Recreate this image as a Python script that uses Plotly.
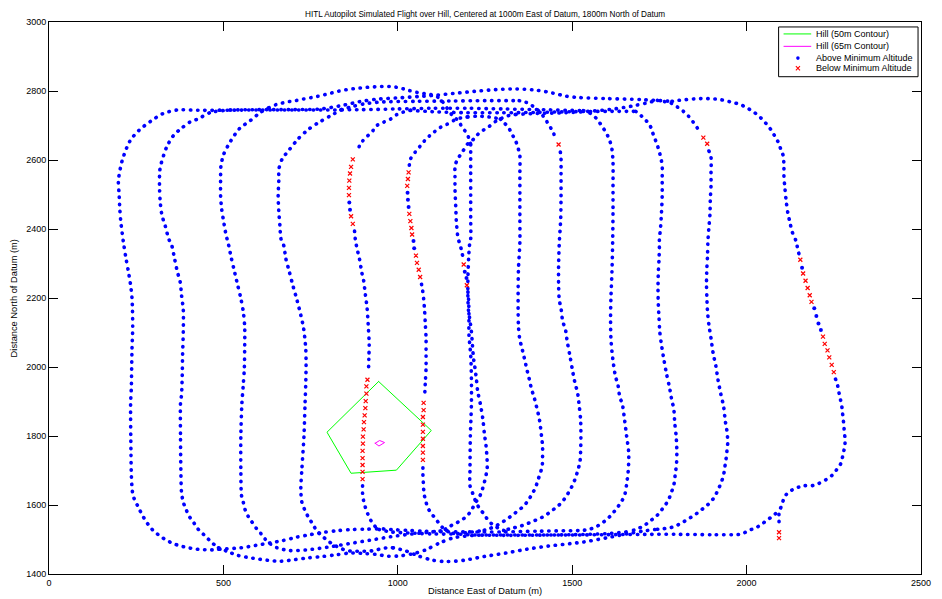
import plotly.graph_objects as go

# ---------------------------------------------------------------------------
# Hill contours (m east / m north of datum)
# ---------------------------------------------------------------------------
HILL_50_X = [945, 1096, 996, 866, 797, 945]
HILL_50_Y = [1958, 1816, 1701, 1692, 1811, 1958]
HILL_65_X = [935, 948, 962, 946, 935]
HILL_65_Y = [1779, 1787, 1781, 1771, 1779]

# ---------------------------------------------------------------------------
# Flight track above minimum altitude, one list per leg / turn.
# None marks a break where the aircraft dropped below minimum altitude.
# ---------------------------------------------------------------------------
LEG_1 = [(489, 2744), (427, 2744), (368, 2745), (326, 2734), (291, 2712), (258, 2686), (232, 2655),
         (210, 2599), (199, 2540), (201, 2501), (203, 2458), (206, 2420), (214, 2357), (220, 2319),
         (227, 2280), (234, 2237), (238, 2199), (240, 2117), (238, 2054), (237, 1997), (236, 1939),
         (234, 1894), (235, 1752), (236, 1689), (238, 1651), (241, 1627), (248, 1610), (258, 1590),
         (267, 1571), (277, 1555), (288, 1538), (301, 1524), (316, 1512), (333, 1500), (352, 1490),
         (371, 1483), (390, 1478), (410, 1474), (432, 1471), (451, 1470), (470, 1470), (489, 1472)]
LEG_2 = [(520, 2745), (464, 2738), (427, 2719), (404, 2710), (376, 2689), (357, 2671), (337, 2637),
         (319, 2579), (317, 2559), (317, 2516), (319, 2477), (324, 2439), (333, 2410), (343, 2372),
         (352, 2352), (360, 2314), (368, 2276), (376, 2247), (380, 2208), (385, 2165), (385, 2103),
         (383, 2035), (382, 1977), (380, 1920), (377, 1894), (377, 1800), (378, 1704), (380, 1636),
         (385, 1608), (393, 1587), (402, 1567), (413, 1552), (425, 1533), (440, 1518), (453, 1505),
         (468, 1490), (486, 1476)]
LEG_3 = [(630, 2751), (606, 2738), (578, 2715), (546, 2691), (521, 2655), (501, 2617), (493, 2583),
         (492, 2544), (492, 2496), (495, 2458), (501, 2420), (508, 2381), (514, 2358), (522, 2319),
         (531, 2280), (541, 2237), (550, 2199), (557, 2160), (561, 2117), (561, 2054), (560, 1997),
         (557, 1949), (553, 1894), (550, 1800), (550, 1704), (552, 1627), (557, 1608), (562, 1587),
         (571, 1567), (581, 1552), (594, 1533), (607, 1518)]
LEG_4 = [(838, 2746), (805, 2727), (772, 2708), (744, 2689), (715, 2662), (690, 2631), (668, 2602),
         (659, 2573), (659, 2545), (657, 2496), (659, 2448), (662, 2410), (665, 2372), (673, 2352),
         (679, 2314), (689, 2276), (699, 2237), (711, 2194), (722, 2150), (730, 2112), (736, 2054),
         (737, 2006), (736, 1949), (734, 1891), (731, 1800), (725, 1704), (722, 1646), (725, 1608),
         (734, 1584), (744, 1564), (756, 1545), (767, 1526), (779, 1513), (795, 1500), (812, 1487),
         (829, 1478), (847, 1470), (868, 1466), (890, 1466), (911, 1466), (932, 1468), (951, 1473),
         (970, 1476), (986, 1476)]
LEG_5 = [(1036, 2744), (1016, 2739), (998, 2732), (980, 2719), (960, 2710), (937, 2698), (928, 2684),
         (899, 2655), (880, 2621), None,
         (876, 2394), (878, 2372), (881, 2354), (885, 2335), (890, 2314), (897, 2273), (902, 2251),
         (907, 2210), (912, 2170), (916, 2107), (918, 2066), (917, 2026), (916, 1987), None,
         (899, 1656), (899, 1634), (902, 1612), (907, 1593), (914, 1574), (923, 1555), (935, 1538),
         (946, 1529)]
LEG_6 = [(1200, 2725), (1181, 2722), (1161, 2715), (1140, 2703), (1121, 2694), (1104, 2681),
         (1090, 2669), (1076, 2655), (1064, 2640), (1050, 2623), (1036, 2602), (1033, 2584), None,
         (1068, 2240), (1071, 2223), (1074, 2199), (1077, 2160), (1079, 2122), (1081, 2083),
         (1081, 2045), (1081, 1997), (1079, 1958), (1077, 1916), None,
         (1072, 1708), (1072, 1688), (1073, 1668), (1074, 1648), (1076, 1629), (1081, 1608),
         (1088, 1588), (1099, 1572), (1112, 1555), (1126, 1537), (1140, 1526)]
LEG_7 = [(1338, 2732), (1319, 2729), (1300, 2722), (1282, 2713), (1263, 2698), (1246, 2687),
         (1229, 2674), (1217, 2660), (1203, 2650), (1190, 2631), (1181, 2617), (1171, 2602),
         (1164, 2582), (1164, 2564), (1164, 2516), (1166, 2468), (1168, 2420), (1173, 2372),
         (1178, 2357), (1183, 2336), (1187, 2317), None,
         (1201, 2218), (1203, 2194), (1204, 2150), (1204, 2093), (1209, 2035), (1211, 1968),
         (1211, 1891), (1208, 1800), (1207, 1704), (1207, 1656), (1215, 1633), (1223, 1611),
         (1234, 1590), (1247, 1574), (1258, 1557), (1272, 1543), (1288, 1533), (1305, 1526),
         (1310, 1528)]
LEG_8 = [(1209, 2645), (1209, 2612), (1209, 2564), (1209, 2497), (1209, 2429), (1209, 2372),
         (1206, 2357), (1203, 2314), (1201, 2256), (1201, 2199), (1203, 2160), (1206, 2141),
         (1211, 2103), (1214, 2064), (1217, 2026), (1220, 2006), (1225, 1968), (1229, 1930),
         (1237, 1891), (1244, 1848), (1248, 1809), (1253, 1771), (1256, 1732), (1256, 1704),
         (1248, 1665), (1241, 1641), (1231, 1617), (1223, 1608), (1213, 1588), (1201, 1571),
         (1184, 1557), (1166, 1547), (1147, 1537), (1130, 1526)]
LEG_9 = [(1294, 2719), (1305, 2708), (1319, 2691), (1328, 2674), (1338, 2655), (1345, 2634),
         (1350, 2612), (1350, 2564), (1350, 2496), (1350, 2429), (1350, 2362), (1346, 2285),
         (1345, 2227), (1345, 2160), (1346, 2117), (1350, 2078), (1355, 2059), (1360, 2037),
         (1365, 2016), (1369, 1997), (1374, 1977), (1379, 1956), (1383, 1937), (1390, 1915),
         (1395, 1896), (1406, 1848), (1412, 1800), (1415, 1771), (1415, 1737), (1414, 1713),
         (1409, 1694), (1402, 1673), (1395, 1651), (1385, 1632), (1373, 1612), (1360, 1596),
         (1345, 1584), (1329, 1571), (1313, 1559), (1296, 1548), (1279, 1538), (1261, 1531),
         (1244, 1526)]
LEG_10 = [(1348, 2772), (1366, 2768), (1381, 2760), (1398, 2748), (1409, 2737), (1423, 2719),
          (1432, 2703), (1444, 2684), (1451, 2665), None,
          (1466, 2623), (1468, 2602), (1468, 2564), (1468, 2497), (1467, 2429), (1463, 2360),
          (1461, 2295), (1461, 2237), (1463, 2194), (1468, 2170), (1473, 2131), (1480, 2112),
          (1486, 2072), (1494, 2030), (1501, 1989), (1509, 1949), (1515, 1928), (1520, 1888),
          (1524, 1848), (1525, 1800), (1524, 1752), (1522, 1723), (1517, 1704), (1511, 1683),
          (1503, 1662), (1494, 1644), (1484, 1627), (1472, 1610), (1458, 1596), (1442, 1584),
          (1425, 1571), (1407, 1561), (1388, 1553), (1369, 1545), (1349, 1538), (1329, 1533),
          (1310, 1528)]
LEG_11 = [(1532, 2743), (1549, 2737), (1565, 2725), (1577, 2710), (1588, 2694), (1600, 2674),
          (1608, 2655), (1614, 2631), (1617, 2593), (1617, 2525), (1617, 2448), (1616, 2362),
          (1614, 2276), (1611, 2199), (1610, 2141), (1611, 2083), (1614, 2045), (1618, 2011),
          (1624, 1973), (1631, 1949), (1637, 1910), (1643, 1896), (1650, 1848), (1656, 1800),
          (1662, 1752), (1661, 1704), (1656, 1660), (1650, 1627), (1640, 1608), (1626, 1588),
          (1612, 1571), (1598, 1557), (1582, 1545), (1565, 1535), (1546, 1529), (1527, 1526)]
LEG_12 = [(1682, 2741), (1699, 2727), (1713, 2713), (1724, 2698), (1730, 2681), (1737, 2662),
          (1744, 2643), (1750, 2623), (1755, 2602), (1758, 2583), (1758, 2545), (1758, 2496),
          (1756, 2448), (1753, 2400), (1750, 2372), (1750, 2352), (1749, 2314), (1747, 2276),
          (1746, 2227), (1747, 2179), (1749, 2141), (1751, 2103), (1756, 2064), (1763, 2021),
          (1770, 1982), (1779, 1941), (1786, 1901), (1791, 1881), (1794, 1838), (1798, 1800),
          (1800, 1757), (1799, 1718), (1796, 1694), (1791, 1656), (1784, 1636), (1777, 1617),
          (1767, 1600), (1755, 1584), (1741, 1567), (1725, 1555), (1706, 1540), (1687, 1531),
          (1664, 1523)]
LEG_13 = [(1744, 2773), (1766, 2769), (1781, 2766), (1798, 2756), (1815, 2744), (1829, 2732),
          (1843, 2715), (1854, 2700), (1866, 2681), None,
          (1892, 2626), (1898, 2607), (1898, 2564), (1898, 2525), (1896, 2487), (1895, 2444),
          (1892, 2405), (1889, 2363), (1888, 2323), (1886, 2285), (1885, 2242), (1886, 2203),
          (1888, 2160), (1892, 2122), (1898, 2083), (1904, 2040), (1912, 2002), (1918, 1963),
          (1926, 1922), (1934, 1886), (1939, 1843), (1943, 1819), (1945, 1800), (1946, 1781),
          (1944, 1761), (1942, 1740), (1939, 1721), (1937, 1704), (1933, 1683), (1926, 1662),
          (1918, 1644), (1909, 1625), (1898, 1610), (1883, 1596), (1868, 1584), (1851, 1571),
          (1835, 1561), (1817, 1550), (1798, 1540), (1777, 1533), (1756, 1531), (1737, 1529)]
LEG_14 = [(1786, 2770), (1806, 2773), (1826, 2775), (1848, 2777), (1868, 2778), (1888, 2778),
          (1907, 2777), (1925, 2775), (1947, 2770), (1964, 2766), (1982, 2761), (2001, 2751),
          (2018, 2741), (2032, 2730), (2046, 2717), (2058, 2703), (2071, 2686), (2081, 2669),
          (2091, 2651), (2098, 2631), (2105, 2612), (2107, 2580), (2107, 2554), (2110, 2516),
          (2114, 2477), (2118, 2448), (2124, 2420), (2131, 2391), (2141, 2367), (2145, 2350),
          (2150, 2328), None,
          (2255, 1965), (2261, 1946), (2265, 1925), (2269, 1906), (2273, 1886), (2275, 1867),
          (2277, 1848), (2279, 1830), (2280, 1812), (2282, 1795), (2282, 1776), (2279, 1758),
          (2275, 1739), (2270, 1720), (2258, 1702), (2245, 1686), (2227, 1673), (2206, 1662),
          (2188, 1656), (2166, 1656), (2150, 1652), (2131, 1644), (2115, 1632), (2107, 1619),
          (2101, 1600), (2095, 1585), (2093, 1579), (2093, 1555), (2093, 1533)]

# turns along the north edge
TOP_1_11 = [(489, 2744), (600, 2745), (700, 2745), (800, 2745), (900, 2746), (1000, 2748),
            (1100, 2750), (1200, 2750), (1300, 2748), (1400, 2746), (1532, 2743)]
TOP_2_14 = [(520, 2745), (600, 2746), (700, 2746), (780, 2748), (840, 2758), (890, 2769),
            (937, 2776), (1000, 2780), (1060, 2784), (1110, 2788), (1160, 2793), (1220, 2799),
            (1280, 2804), (1340, 2806), (1400, 2802), (1444, 2794), (1483, 2785), (1520, 2781),
            (1600, 2778), (1700, 2775), (1786, 2770)]
TOP_3_8 = [(630, 2751), (652, 2761), (673, 2766), (692, 2770), (711, 2773), (731, 2777),
           (753, 2781), (772, 2785), (793, 2790), (813, 2795), (833, 2800), (854, 2804),
           (876, 2807), (895, 2809), (916, 2811), (937, 2812), (956, 2813), (977, 2813),
           (996, 2811), (1017, 2806), (1034, 2801), (1055, 2796), (1074, 2793), (1093, 2790),
           (1112, 2784), (1126, 2772), (1140, 2752), (1154, 2732), (1168, 2719), (1178, 2706),
           (1187, 2691), (1197, 2679), (1204, 2662), (1209, 2645)]
TOP_4_10 = [(838, 2746), (870, 2755), (905, 2763), (950, 2768), (1050, 2770), (1150, 2771),
            (1250, 2772), (1348, 2772)]
TOP_5_12 = [(1036, 2744), (1100, 2740), (1200, 2737), (1300, 2737), (1400, 2738), (1500, 2740),
            (1600, 2741), (1682, 2741)]
TOP_6_9 = [(1200, 2725), (1230, 2727), (1260, 2725), (1294, 2719)]
TOP_7_13 = [(1338, 2732), (1400, 2735), (1480, 2737), (1560, 2742), (1620, 2748), (1680, 2758),
            (1720, 2767), (1744, 2773)]

# turns along the south edge
BOT_1_11 = [(489, 1472), (508, 1473), (550, 1476), (593, 1483), (633, 1490), (671, 1497),
            (711, 1507), (748, 1514), (789, 1521), (830, 1526), (871, 1529), (911, 1530),
            (951, 1531), (996, 1528), (1036, 1526), (1077, 1524), (1118, 1523), (1200, 1522),
            (1300, 1522), (1400, 1524), (1527, 1526)]
BOT_2_END = [(486, 1476), (522, 1461), (541, 1454), (583, 1446), (626, 1440), (663, 1437),
             (706, 1442), (745, 1447), (786, 1451), (826, 1456), (866, 1461), (909, 1459),
             (946, 1456), (965, 1452), (1000, 1452), (1040, 1458), (1080, 1470), (1120, 1490),
             (1160, 1505), (1220, 1512), (1300, 1513), (1400, 1513), (1500, 1513), (1600, 1514),
             (1741, 1515), (1800, 1515), (1900, 1514), (1986, 1516), (2005, 1526), (2025, 1533),
             (2041, 1543), (2060, 1557), (2076, 1569), (2091, 1582)]
BOT_3_8 = [(607, 1518), (619, 1502), (635, 1487), (654, 1476), (690, 1468), (740, 1470),
           (800, 1478), (860, 1488), (920, 1498), (980, 1508), (1040, 1516), (1090, 1521),
           (1130, 1526)]
BOT_4_13 = [(986, 1476), (1020, 1468), (1060, 1452), (1100, 1440), (1140, 1436), (1191, 1440),
            (1249, 1451), (1311, 1461), (1371, 1472), (1432, 1481), (1494, 1488), (1534, 1493),
            (1600, 1505), (1660, 1517), (1700, 1524), (1737, 1529)]
BOT_5_9 = [(946, 1529), (980, 1522), (1050, 1518), (1100, 1516), (1160, 1516), (1200, 1520),
           (1244, 1526)]
BOT_6_12 = [(1140, 1526), (1160, 1518), (1200, 1514), (1300, 1512), (1500, 1514), (1600, 1517),
            (1664, 1523)]

# short runs above minimum altitude between low passes
ABOVE_SHORT = [(861, 2477), (863, 2456), (1028, 2505), (1029, 2485), (1031, 2464), (1045, 2365),
               (1047, 2344), (1192, 2276), (1197, 2258), (2159, 2288), (2194, 2170), (2200, 2148),
               (2206, 2126), (2213, 2107)]

# samples below minimum altitude
BELOW_MIN = [(871, 2602), (866, 2580), (863, 2561), (861, 2540), (860, 2519), (860, 2498),
             (866, 2437), (871, 2415),
             (1031, 2564), (1029, 2545), (1027, 2525), (1033, 2444), (1036, 2423), (1039, 2403),
             (1041, 2384), (1052, 2323), (1055, 2302), (1060, 2282), (1064, 2261),
             (1461, 2645), (1876, 2665), (1887, 2647), (1189, 2297), (1198, 2237),
             (2154, 2311), (2162, 2271), (2169, 2250), (2175, 2229), (2181, 2208), (2186, 2189),
             (2219, 2088), (2224, 2067), (2232, 2048), (2237, 2028), (2244, 2006), (2250, 1985),
             (913, 1963), (910, 1944), (910, 1923), (908, 1901), (907, 1881), (905, 1860),
             (903, 1840), (902, 1819), (900, 1798), (900, 1778), (899, 1757), (899, 1736),
             (899, 1716), (899, 1696), (899, 1675),
             (1074, 1896), (1074, 1875), (1072, 1855), (1072, 1833), (1072, 1812), (1072, 1792),
             (1072, 1771), (1072, 1752), (1072, 1731),
             (2093, 1521), (2093, 1504)]

TRACK = [LEG_1, LEG_2, LEG_3, LEG_4, LEG_5, LEG_6, LEG_7, LEG_8, LEG_9, LEG_10, LEG_11,
         LEG_12, LEG_13, LEG_14, TOP_1_11, TOP_2_14, TOP_3_8, TOP_4_10, TOP_5_12, TOP_6_9,
         TOP_7_13, BOT_1_11, BOT_2_END, BOT_3_8, BOT_4_13, BOT_5_9, BOT_6_12]

TITLE = "HITL Autopilot Simulated Flight over Hill, Centered at 1000m East of Datum, 1800m North of Datum"
X_TICKS = [0, 500, 1000, 1500, 2000, 2500]
Y_TICKS = [1400, 1600, 1800, 2000, 2200, 2400, 2600, 2800, 3000]

FONT = "Liberation Sans, Arial, Helvetica, sans-serif"
BLUE = "#0000FF"
RED = "#FF0000"
GREEN = "#00FF00"
MAGENTA = "#FF00FF"


def flatten(strands):
    xs, ys = [], []
    for s in strands:
        for p in s:
            xs.append(None if p is None else p[0])
            ys.append(None if p is None else p[1])
        xs.append(None)
        ys.append(None)
    return xs, ys


track_x, track_y = flatten(TRACK)

fig = go.Figure()
fig.add_trace(go.Scatter(x=HILL_50_X, y=HILL_50_Y, mode="lines",
                         line=dict(color=GREEN, width=1), showlegend=False, hoverinfo="skip"))
fig.add_trace(go.Scatter(x=HILL_65_X, y=HILL_65_Y, mode="lines",
                         line=dict(color=MAGENTA, width=1), showlegend=False, hoverinfo="skip"))
# the track itself: a dotted polyline (one round dot per sample spacing)
fig.add_trace(go.Scatter(x=track_x, y=track_y, mode="lines", connectgaps=False,
                         line=dict(color=BLUE, width=3.6, dash="0.4px,6.8px", shape="spline",
                                   smoothing=0.8),
                         showlegend=False, hoverinfo="skip"))
fig.add_trace(go.Scatter(x=[p[0] for p in ABOVE_SHORT], y=[p[1] for p in ABOVE_SHORT],
                         mode="markers", marker=dict(color=BLUE, size=4, symbol="circle"),
                         showlegend=False, hoverinfo="skip"))
fig.add_trace(go.Scatter(x=[p[0] for p in BELOW_MIN], y=[p[1] for p in BELOW_MIN],
                         mode="markers",
                         marker=dict(symbol="x-thin", size=4, line=dict(color=RED, width=1.2)),
                         showlegend=False, hoverinfo="skip"))

# legend box drawn in paper coordinates
L, R, B, T = 0.8367, 0.9966, 0.9009, 0.991
shapes = [
    dict(type="rect", xref="paper", yref="paper", x0=L, x1=R, y0=B, y1=T,
         line=dict(color="black", width=1), fillcolor="white", layer="above"),
    dict(type="line", xref="paper", yref="paper", x0=0.8424, x1=0.8741, y0=0.9784, y1=0.9784,
         line=dict(color=GREEN, width=1), layer="above"),
    dict(type="line", xref="paper", yref="paper", x0=0.8424, x1=0.8741, y0=0.9559, y1=0.9559,
         line=dict(color=MAGENTA, width=1), layer="above"),
    dict(type="circle", xref="paper", yref="paper", x0=0.8568, x1=0.8609, y0=0.9313, y1=0.9379,
         line=dict(color=BLUE, width=0), fillcolor=BLUE, layer="above"),
    dict(type="line", xref="paper", yref="paper", x0=0.8565, x1=0.8612, y0=0.9125, y1=0.9199,
         line=dict(color=RED, width=1.1), layer="above"),
    dict(type="line", xref="paper", yref="paper", x0=0.8565, x1=0.8612, y0=0.9199, y1=0.9125,
         line=dict(color=RED, width=1.1), layer="above"),
]
legend_labels = ["Hill (50m Contour)", "Hill (65m Contour)", "Above Minimum Altitude",
                 "Below Minimum Altitude"]
legend_y = [0.9784, 0.9559, 0.9346, 0.9162]
annotations = [dict(text=t, x=0.8776, y=yy, xref="paper", yref="paper", xanchor="left",
                    yanchor="middle", showarrow=False, font=dict(family=FONT, size=9, color="black"))
               for t, yy in zip(legend_labels, legend_y)]
annotations += [
    dict(text=TITLE, x=0.5, y=1.0144, xref="paper", yref="paper", xanchor="center",
         yanchor="middle", showarrow=False, font=dict(family=FONT, size=8.2, color="black")),
    dict(text="Distance East of Datum (m)", x=0.5, y=-0.0306, xref="paper", yref="paper",
         xanchor="center", yanchor="middle", showarrow=False,
         font=dict(family=FONT, size=9.3, color="black")),
    dict(text="Distance North of Datum (m)", x=-0.0397, y=0.5, xref="paper", yref="paper",
         xanchor="center", yanchor="middle", textangle=-90, showarrow=False,
         font=dict(family=FONT, size=9.3, color="black")),
]

axis_common = dict(showline=True, linecolor="black", linewidth=1, mirror="ticks",
                   ticks="inside", ticklen=9, tickwidth=1, tickcolor="black",
                   showgrid=False, zeroline=False,
                   tickfont=dict(family=FONT, size=9, color="black"))
fig.update_layout(
    width=942, height=599,
    margin=dict(l=49, r=11, t=22, b=22),
    paper_bgcolor="white", plot_bgcolor="white",
    xaxis=dict(range=[0, 2500], tickvals=X_TICKS, **axis_common),
    yaxis=dict(range=[1400, 3000], tickvals=Y_TICKS, **axis_common),
    shapes=shapes, annotations=annotations, showlegend=False,
)

ROUND_DOTS = """
var gd = document.getElementById('{plot_id}');
function roundDots() {
  gd.querySelectorAll('.scatterlayer .js-line').forEach(function (p) {
    p.style.strokeLinecap = 'round';
  });
}
roundDots();
gd.on('plotly_afterplot', roundDots);
"""
fig.write_html("out.html", post_script=ROUND_DOTS)
